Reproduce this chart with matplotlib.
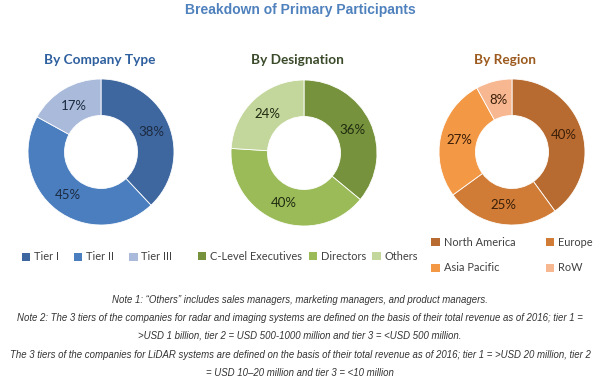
import matplotlib
matplotlib.use("Agg")
import matplotlib.pyplot as plt
from matplotlib.patches import Patch

# ---- data ----
company_labels = ["Tier I", "Tier II", "Tier III"]
company_values = [38, 45, 17]
desig_labels = ["C-Level Executives", "Directors", "Others"]
desig_values = [36, 40, 24]
region_labels = ["North America", "Europe", "Asia Pacific", "RoW"]
region_values = [40, 25, 27, 8]

company_colors = ["#3f679f", "#4a7ebf", "#a9badb"]
desig_colors = ["#76923c", "#9bbb59", "#c3d69b"]
region_colors = ["#b86b30", "#d07c36", "#f39845", "#f6b791"]

title = "Breakdown of Primary Participants"
subtitles = ["By Company Type", "By Designation", "By Region"]
notes = [
    "Note 1: \u201cOthers\u201d includes sales managers, marketing managers, and product managers.",
    "Note 2: The 3 tiers of the companies for radar and imaging systems are defined on the basis of their total revenue as of 2016; tier 1 =",
    ">USD 1 billion, tier 2 = USD 500-1000 million and tier 3 = <USD 500 million.",
    "The 3 tiers of the companies for LiDAR systems are defined on the basis of their total revenue as of 2016; tier 1 = >USD 20 million, tier 2",
    "= USD 10\u201320 million and tier 3 = <10 million",
]

W, H = 600, 383
fig = plt.figure(figsize=(W / 100, H / 100), dpi=100)
fig.patch.set_facecolor("white")

UI = ["Lato", "DejaVu Sans"]

def px(x, y):
    return x / W, 1 - y / H

R = 73
def donut(cx, cy, values, colors, label_color):
    ax = fig.add_axes([(cx - R) / W, (H - cy - R) / H, 2 * R / W, 2 * R / H])
    ax.pie(
        values, colors=colors, startangle=90, counterclock=False, radius=1,
        wedgeprops=dict(width=0.5, edgecolor="white", linewidth=0.6),
        autopct=lambda p: f"{p:.0f}%", pctdistance=0.74,
        textprops=dict(fontsize=9.5, color=label_color, family=UI))
    ax.set_xlim(-1, 1)
    ax.set_ylim(-1, 1)
    ax.set_aspect("equal")
    ax.axis("off")
    return ax

donut(101, 152, company_values, company_colors, "#1c2a40")
donut(304, 153, desig_values, desig_colors, "#1f2a10")
donut(512, 152, region_values, region_colors, "#3a1e08")

fig.text(*px(300, 10), title, ha="center", va="center", fontsize=10,
         fontweight="bold", color="#4f81bd", family=["Liberation Sans", "DejaVu Sans"])

sub_pos = [(100, 60), (297, 60), (505, 60)]
sub_cols = ["#2e5f9e", "#3a4a2a", "#9c5a1e"]
for s, (x, y), c in zip(subtitles, sub_pos, sub_cols):
    fig.text(*px(x, y), s, ha="center", va="center", fontsize=9.8,
             fontweight="bold", color=c, family=UI)

legkw = dict(frameon=False, handlelength=0.75, handleheight=0.75, handletextpad=0.35,
             prop=dict(family=UI, size=7.9), labelcolor="#404040", loc="center",
             borderaxespad=0, borderpad=0)

h1 = [Patch(facecolor=c, edgecolor="none") for c in company_colors]
fig.legend(h1, company_labels, ncol=3, columnspacing=1.4,
           bbox_to_anchor=px(97, 257), **legkw)

h2 = [Patch(facecolor=c, edgecolor="none") for c in desig_colors]
fig.legend(h2, desig_labels, ncol=3, columnspacing=0.6,
           bbox_to_anchor=px(308, 256), **legkw)

h3 = [Patch(facecolor=c, edgecolor="none") for c in region_colors]
order = [0, 2, 1, 3]
fig.legend([h3[i] for i in order], [region_labels[i] for i in order], ncol=2,
           columnspacing=2.8, labelspacing=1.35,
           bbox_to_anchor=px(512, 255), **legkw)

note_y = [300, 318, 336, 355, 373]
for t, y in zip(notes, note_y):
    fig.text(*px(300, y), t, ha="center", va="center", fontsize=6.9,
             style="italic", color="#333333", family=["Liberation Sans", "DejaVu Sans"])

fig.savefig("out.png", dpi=100, facecolor="white")
